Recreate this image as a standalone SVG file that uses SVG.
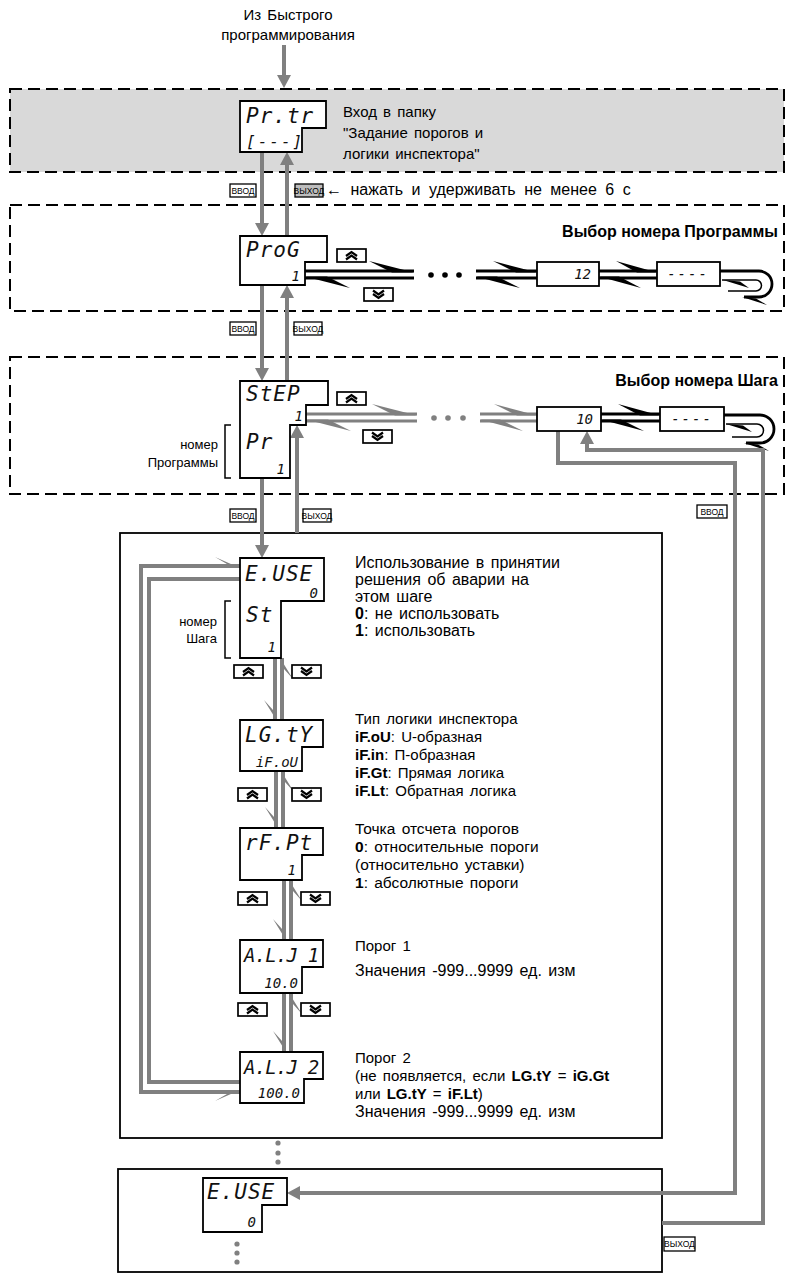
<svg xmlns="http://www.w3.org/2000/svg" width="791" height="1276" viewBox="0 0 791 1276">
<defs>
<style>
.t{font-family:'Liberation Sans',Arial,sans-serif;font-size:15px;fill:#000;word-spacing:2px}
.t2{font-family:'Liberation Sans',Arial,sans-serif;font-size:16px;fill:#000;word-spacing:2px}
.sm{font-family:'Liberation Sans',Arial,sans-serif;font-size:13px;fill:#000}
.ti{font-family:'Liberation Sans',Arial,sans-serif;font-size:16px;font-weight:bold;fill:#000}
.d{font-family:'DejaVu Sans Mono',monospace;font-style:italic;font-size:21px;fill:#111;letter-spacing:1px}
.ds{font-family:'DejaVu Sans Mono',monospace;font-style:italic;font-size:14px;fill:#111}
.disp{fill:#fff;stroke:#000;stroke-width:1.8}
.dash{fill:none;stroke:#000;stroke-width:2;stroke-dasharray:12 6}
.g{fill:none;stroke:#808080;stroke-width:4}
.g3{fill:none;stroke:#808080;stroke-width:3}
.gf{fill:#808080}
.k{fill:none;stroke:#000;stroke-width:2.8}
.k1{fill:none;stroke:#000;stroke-width:1.5}
.kf{fill:#000}
.lb{fill:#fff;stroke:#000;stroke-width:1.3}
.lbg{fill:#bdbdbd;stroke:#000;stroke-width:1.3}
.lt{font-family:'Liberation Sans',Arial,sans-serif;font-size:8.5px;fill:#000}
.box{fill:none;stroke:#000;stroke-width:1.8}
.btn{fill:#fff;stroke:#000;stroke-width:1.7}
.chev{fill:none;stroke:#000;stroke-width:2.2}
</style>
<marker id="ah" viewBox="0 0 13 14" refX="0" refY="7" markerWidth="13" markerHeight="14" markerUnits="userSpaceOnUse" orient="auto"><path d="M0,0 L13,7 L0,14 z" fill="#808080"/></marker>
<symbol id="up" viewBox="0 0 31 15"><rect x="1" y="1" width="29" height="13" class="btn"/><path class="chev" d="M10,8 L15.5,4 L21,8 M10,11.5 L15.5,7.5 L21,11.5"/></symbol>
<symbol id="dn" viewBox="0 0 31 15"><rect x="1" y="1" width="29" height="13" class="btn"/><path class="chev" d="M10,3.5 L15.5,7.5 L21,3.5 M10,7 L15.5,11 L21,7"/></symbol>
</defs>

<g id="frames">
<rect x="10" y="89" width="774" height="83" fill="#d9d9d9" stroke="none"/>
<rect x="10" y="89" width="774" height="83" class="dash"/>
<rect x="10" y="205" width="774" height="106" class="dash"/>
<rect x="10" y="357" width="774" height="137" class="dash"/>
<rect x="120" y="533" width="542" height="605" class="box"/>
<rect x="118" y="1169" width="544" height="103" class="box"/>
</g>

<g id="start">
<text class="t" x="288" y="20" text-anchor="middle">Из Быстрого</text>
<text class="t" x="288" y="40" text-anchor="middle">программирования</text>
</g>

<g id="connectors">
<path class="g" d="M284,45 V75" marker-end="url(#ah)"/>
<path class="g" d="M262,152 V223" marker-end="url(#ah)"/>
<path class="g" d="M287,236 V165" marker-end="url(#ah)"/>
<path class="g" d="M262,285 V368" marker-end="url(#ah)"/>
<path class="g" d="M287,381 V298" marker-end="url(#ah)"/>
<path class="g" d="M262,478 V545" marker-end="url(#ah)"/>
<path class="g" d="M297,533 V438" marker-end="url(#ah)"/>

<path class="k" d="M305,271 H414 M414,278 H305 M476,271 H537 M537,278 H476 M599,271 H657 M657,278 H599"/>
<polygon class="kf" points="369,261 414,272.4 392,272.4"/>
<polygon class="kf" points="350,288 305,276.6 327,276.6"/>
<polygon class="kf" points="493,261 537,272.4 516,272.4"/>
<polygon class="kf" points="520,288 476,276.6 497,276.6"/>
<polygon class="kf" points="616,261 657,272.4 637,272.4"/>
<polygon class="kf" points="641,288 599,276.6 619,276.6"/>
<circle class="kf" cx="431" cy="275" r="2.8"/>
<circle class="kf" cx="445" cy="275" r="2.8"/>
<circle class="kf" cx="459" cy="275" r="2.8"/>
<path class="k" d="M720,271 H759 A13,13 0 0 1 759,297 H744"/>
<path class="k1" d="M722,280 H756 A5.5,5.5 0 0 1 756,291 H728"/>
<polygon class="kf" points="742,297 767,305 756,298.5"/>
<polygon class="kf" points="723,280 749,288 740,281.5"/>

<path class="g3" d="M306,414 H417 M417,421 H306 M480,414 H537 M537,421 H480"/>
<polygon class="gf" points="372,404 417,415.5 395,415.5"/>
<polygon class="gf" points="351,431 306,419.5 328,419.5"/>
<polygon class="gf" points="494,404 537,415.5 517,415.5"/>
<polygon class="gf" points="523,431 480,419.5 500,419.5"/>
<circle class="gf" cx="434" cy="418" r="2.8"/>
<circle class="gf" cx="448" cy="418" r="2.8"/>
<circle class="gf" cx="463" cy="418" r="2.8"/>
<path class="k" d="M601,414 H660 M660,421 H601"/>
<polygon class="kf" points="618,404 660,415.4 640,415.4"/>
<polygon class="kf" points="644,431 601,419.6 621,419.6"/>
<path class="k" d="M724,415 H760 A14,14 0 0 1 760,443 H746"/>
<path class="k1" d="M726,424 H757 A6.5,6.5 0 0 1 757,437 H732"/>
<polygon class="kf" points="744,443 769,451 758,444.5"/>
<polygon class="kf" points="726,424 752,432 743,425.5"/>

<path class="g" d="M558,431 V463 H735 V1193 H300" marker-end="url(#ah)"/>
<path class="g" d="M662,1223 H763 V450 H587 V444" marker-end="url(#ah)"/>

<path class="g" d="M275,658 V721 M282,721 V658"/>
<polygon class="gf" points="264,700 277,721 273,721 273,710"/>
<polygon class="gf" points="293,679 280,658 284,658 284,669"/>
<path class="g" d="M276,771 V828 M283,828 V771"/>
<polygon class="gf" points="265,807 278,828 274,828 274,817"/>
<polygon class="gf" points="294,792 281,771 285,771 285,782"/>
<path class="g" d="M284,880 V940 M291,940 V880"/>
<polygon class="gf" points="273,919 286,940 282,940 282,929"/>
<polygon class="gf" points="302,901 289,880 293,880 293,891"/>
<path class="g" d="M284,993 V1052 M291,1052 V993"/>
<polygon class="gf" points="273,1031 286,1052 282,1052 282,1041"/>
<polygon class="gf" points="302,1014 289,993 293,993 293,1004"/>

<path class="g" d="M240,566 H141 V1092 H240"/>
<path class="g" d="M240,579 H149 V1082 H240"/>
<polygon class="gf" points="215,557 240,568 240,564 227,564"/>
<polygon class="gf" points="215,1101 240,1090 240,1094 227,1094"/>

<circle class="gf" cx="278" cy="1143" r="2.6"/>
<circle class="gf" cx="278" cy="1153" r="2.6"/>
<circle class="gf" cx="278" cy="1162" r="2.6"/>
<circle class="gf" cx="237" cy="1244" r="2.6"/>
<circle class="gf" cx="237" cy="1253" r="2.6"/>
<circle class="gf" cx="237" cy="1262" r="2.6"/>
</g>

<g id="keys">
<rect class="lb" x="230" y="184" width="26" height="13"/><text class="lt" x="243" y="193.8" text-anchor="middle">ВВОД</text>
<rect class="lbg" x="295" y="184" width="28" height="13"/><text class="lt" x="309" y="193.8" text-anchor="middle">ВЫХОД</text>
<text class="t2" x="326" y="195" style="word-spacing:4px">← нажать и удерживать не менее 6 с</text>
<rect class="lb" x="230" y="322" width="26" height="13"/><text class="lt" x="243" y="331.8" text-anchor="middle">ВВОД</text>
<rect class="lb" x="294" y="322" width="28" height="13"/><text class="lt" x="308" y="331.8" text-anchor="middle">ВЫХОД</text>
<rect class="lb" x="230" y="509" width="26" height="13"/><text class="lt" x="243" y="518.8" text-anchor="middle">ВВОД</text>
<rect class="lb" x="303" y="509" width="28" height="13"/><text class="lt" x="317" y="518.8" text-anchor="middle">ВЫХОД</text>
<rect class="lb" x="697" y="505" width="30" height="13"/><text class="lt" x="712" y="514.8" text-anchor="middle">ВВОД</text>
<rect class="lb" x="664" y="1237" width="31" height="14"/><text class="lt" x="679.5" y="1247.3" text-anchor="middle">ВЫХОД</text>
<use href="#up" x="336" y="248" width="31" height="15"/>
<use href="#dn" x="363" y="287" width="31" height="15"/>
<use href="#up" x="336" y="391" width="31" height="15"/>
<use href="#dn" x="362" y="429" width="31" height="15"/>
<use href="#up" x="233" y="664" width="31" height="15"/>
<use href="#dn" x="291" y="664" width="31" height="15"/>
<use href="#up" x="237" y="787" width="31" height="15"/>
<use href="#dn" x="291" y="787" width="31" height="15"/>
<use href="#up" x="237" y="891" width="31" height="15"/>
<use href="#dn" x="300" y="891" width="31" height="15"/>
<use href="#up" x="237" y="1002" width="31" height="15"/>
<use href="#dn" x="300" y="1002" width="31" height="15"/>
</g>

<g id="n-prtr">
<polygon class="disp" points="240,101 326,101 326,128 302,128 302,152 240,152"/>
<text class="d" x="246" y="123">Pr.tr</text>
<text class="ds" x="246" y="147" style="font-size:16px;letter-spacing:2px">[---]</text>
<text class="t" x="343" y="117">Вход в папку</text>
<text class="t" x="343" y="138">"Задание порогов и</text>
<text class="t" x="343" y="159">логики инспектора"</text>
</g>

<g id="n-prog">
<text class="ti" x="778" y="237" text-anchor="end">Выбор номера Программы</text>
<polygon class="disp" points="240,236 327,236 327,262 305,262 305,285 240,285"/>
<text class="d" x="246" y="257">ProG</text>
<text class="ds" x="300" y="281" text-anchor="end">1</text>
</g>
<g id="n-prog12">
<rect class="disp" x="537" y="262" width="62" height="24"/>
<text class="ds" x="591" y="279" text-anchor="end">12</text>
</g>
<g id="n-progend">
<rect class="disp" x="657" y="262" width="63" height="24"/>
<text class="ds" x="688" y="279" text-anchor="middle" style="letter-spacing:2px">----</text>
</g>

<g id="n-step">
<text class="ti" x="778" y="386" text-anchor="end">Выбор номера Шага</text>
<polygon class="disp" points="240,381 328,381 328,405 306,405 306,425 290,425 290,478 240,478"/>
<text class="d" x="246" y="401">StEP</text>
<text class="ds" x="303" y="421" text-anchor="end">1</text>
<text class="d" x="246" y="449">Pr</text>
<text class="ds" x="285" y="474" text-anchor="end">1</text>
<path class="k1" d="M231,425 H225 V478 H231"/>
<text class="sm" x="218" y="449" text-anchor="end">номер</text>
<text class="sm" x="218" y="467" text-anchor="end">Программы</text>
</g>
<g id="n-step10">
<rect class="disp" x="537" y="407" width="64" height="24"/>
<text class="ds" x="593" y="424" text-anchor="end">10</text>
</g>
<g id="n-stepend">
<rect class="disp" x="660" y="407" width="64" height="24"/>
<text class="ds" x="692" y="424" text-anchor="middle" style="letter-spacing:2px">----</text>
</g>

<g id="n-euse">
<polygon class="disp" points="240,558 324,558 324,601 281,601 281,658 240,658"/>
<text class="d" x="245" y="581">E.USE</text>
<text class="ds" x="318" y="598" text-anchor="end">0</text>
<text class="d" x="246" y="622">St</text>
<text class="ds" x="276" y="652" text-anchor="end">1</text>
<path class="k1" d="M231,601 H225 V658 H231"/>
<text class="sm" x="217" y="626" text-anchor="end">номер</text>
<text class="sm" x="217" y="643" text-anchor="end">Шага</text>
<text class="t2" x="355" y="568">Использование в принятии</text>
<text class="t2" x="355" y="585">решения об аварии на</text>
<text class="t2" x="355" y="602">этом шаге</text>
<text class="t2" x="355" y="619"><tspan font-weight="bold">0</tspan>: не использовать</text>
<text class="t2" x="355" y="636"><tspan font-weight="bold">1</tspan>: использовать</text>
</g>

<g id="n-lgty">
<polygon class="disp" points="240,720 323,720 323,747 302,747 302,771 240,771"/>
<text class="d" x="245" y="742">LG.tY</text>
<text class="ds" x="298" y="767" text-anchor="end">iF.oU</text>
<text class="t" x="355" y="724">Тип логики инспектора</text>
<text class="t" x="355" y="742"><tspan font-weight="bold">iF.oU</tspan>: U-образная</text>
<text class="t" x="355" y="760"><tspan font-weight="bold">iF.in</tspan>: П-образная</text>
<text class="t" x="355" y="778"><tspan font-weight="bold">iF.Gt</tspan>: Прямая логика</text>
<text class="t" x="355" y="796"><tspan font-weight="bold">iF.Lt</tspan>:  Обратная логика</text>
</g>

<g id="n-rfpt">
<polygon class="disp" points="240,828 323,828 323,855 302,855 302,880 240,880"/>
<text class="d" x="245" y="850">rF.Pt</text>
<text class="ds" x="296" y="875" text-anchor="end">1</text>
<text class="t" x="355" y="834" style="font-size:15.5px">Точка отсчета порогов</text>
<text class="t" x="355" y="852" style="font-size:15.5px"><tspan font-weight="bold">0</tspan>: относительные пороги</text>
<text class="t" x="355" y="870" style="font-size:15.5px">(относительно уставки)</text>
<text class="t" x="355" y="888" style="font-size:15.5px"><tspan font-weight="bold">1</tspan>: абсолютные пороги</text>
</g>

<g id="n-al1">
<polygon class="disp" points="240,940 323,940 323,967 302,967 302,993 240,993"/>
<text class="d" x="244" y="962" style="font-size:19px;letter-spacing:-0.8px">A.L.J 1</text>
<text class="ds" x="298" y="988" text-anchor="end">10.0</text>
<text class="t" x="355" y="951">Порог 1</text>
<text class="t2" x="355" y="976">Значения -999...9999 ед. изм</text>
</g>

<g id="n-al2">
<polygon class="disp" points="240,1052 323,1052 323,1079 304,1079 304,1103 240,1103"/>
<text class="d" x="244" y="1074" style="font-size:19px;letter-spacing:-0.8px">A.L.J 2</text>
<text class="ds" x="300" y="1098" text-anchor="end">100.0</text>
<text class="t" x="355" y="1063">Порог 2</text>
<text class="t" x="355" y="1081">(не появляется, если <tspan font-weight="bold">LG.tY</tspan> = <tspan font-weight="bold">iG.Gt</tspan></text>
<text class="t" x="355" y="1099">или <tspan font-weight="bold">LG.tY</tspan> = <tspan font-weight="bold">iF.Lt</tspan>)</text>
<text class="t2" x="355" y="1117">Значения -999...9999 ед. изм</text>
</g>

<g id="n-euse2">
<polygon class="disp" points="203,1178 287,1178 287,1205 262,1205 262,1232 203,1232"/>
<text class="d" x="207" y="1199">E.USE</text>
<text class="ds" x="256" y="1227" text-anchor="end">0</text>
</g>
</svg>
